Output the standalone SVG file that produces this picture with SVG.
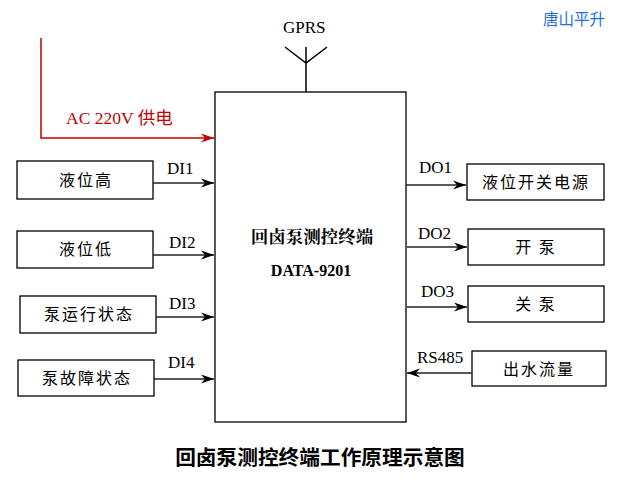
<svg xmlns="http://www.w3.org/2000/svg" width="626" height="481" viewBox="0 0 626 481">
<defs>
<marker id="ah" markerUnits="userSpaceOnUse" markerWidth="14" markerHeight="10" refX="13" refY="5" orient="auto">
<path d="M0,0.5 L13,5 L0,9.5 L4,5 z" fill="#000"/>
</marker>
<marker id="ahr" markerUnits="userSpaceOnUse" markerWidth="14" markerHeight="10" refX="13" refY="5" orient="auto">
<path d="M0,0.5 L13,5 L0,9.5 L4,5 z" fill="#c00000"/>
</marker>
</defs>
<style>
.box{fill:#fff;stroke:#000;stroke-width:1.3}
.cn{font-family:"Noto Sans CJK SC","Noto Sans",sans-serif;font-size:16px;letter-spacing:2px;text-anchor:middle;fill:#000}
.lb{font-family:"Liberation Serif","Noto Sans CJK SC",serif;font-size:17px;fill:#000}
.ln{stroke:#222;stroke-width:1.5;fill:none;marker-end:url(#ah)}
</style>
<rect width="626" height="481" fill="#fff"/>
<text x="543" y="25" style="font-family:'Noto Sans CJK SC',sans-serif;font-size:15.5px;fill:#1e6fd9">唐山平升</text>

<g id="terminal">
<rect class="box" x="215" y="92" width="191" height="330"/>
<text x="312" y="243" text-anchor="middle" style="font-family:'Noto Serif CJK SC','Noto Sans CJK SC',serif;font-size:17.5px;font-weight:bold">回卤泵测控终端</text>
<text x="311" y="276" text-anchor="middle" style="font-family:'Liberation Serif',serif;font-size:16px;font-weight:bold">DATA-9201</text>
</g>

<g id="gprs">
<text class="lb" x="283" y="33">GPRS</text>
<path d="M285,47 L306,63 L327,47 M306,47 L306,92" stroke="#000" stroke-width="1.5" fill="none"/>
</g>

<g id="power">
<text x="66" y="124" style="font-family:'Liberation Serif','Noto Sans CJK SC',serif;font-size:17.5px;fill:#c00000">AC 220V 供电</text>
</g>

<g id="n1"><rect class="box" x="17" y="161" width="136" height="38"/><text class="cn" x="86" y="186">液位高</text></g>
<g id="n2"><rect class="box" x="17" y="231" width="136" height="37"/><text class="cn" x="86" y="255">液位低</text></g>
<g id="n3"><rect class="box" x="20" y="296" width="136" height="37"/><text class="cn" x="89" y="320">泵运行状态</text></g>
<g id="n4"><rect class="box" x="18" y="360" width="136" height="36"/><text class="cn" x="87" y="384">泵故障状态</text></g>

<g id="n5"><rect class="box" x="467" y="164" width="137" height="36"/><text class="cn" x="536" y="188">液位开关电源</text></g>
<g id="n6"><rect class="box" x="468" y="229" width="136" height="36"/><text class="cn" x="536" y="253">开 泵</text></g>
<g id="n7"><rect class="box" x="468" y="286" width="136" height="36"/><text class="cn" x="536" y="310">关 泵</text></g>
<g id="n8"><rect class="box" x="472" y="351" width="134" height="35"/><text class="cn" x="539" y="375">出水流量</text></g>

<g id="connectors">
<path d="M41,38 L41,138 L214,138" stroke="#c00000" stroke-width="1.5" fill="none" marker-end="url(#ahr)"/>
<path class="ln" d="M153,183 L214,183"/>
<path class="ln" d="M153,255 L214,255"/>
<path class="ln" d="M156,317 L214,317"/>
<path class="ln" d="M154,379 L214,379"/>
<path class="ln" d="M406,185 L466,185"/>
<path class="ln" d="M407,247 L467,247"/>
<path class="ln" d="M407,307 L467,307"/>
<path class="ln" d="M472,373 L407,373"/>
<text class="lb" x="167" y="174">DI1</text>
<text class="lb" x="169" y="248">DI2</text>
<text class="lb" x="169" y="309">DI3</text>
<text class="lb" x="168" y="368">DI4</text>
<text class="lb" x="419" y="173">DO1</text>
<text class="lb" x="418" y="239">DO2</text>
<text class="lb" x="421" y="297">DO3</text>
<text class="lb" x="417" y="363">RS485</text>
</g>

<text x="320" y="465" text-anchor="middle" style="font-family:'Noto Sans CJK SC',sans-serif;font-size:20.7px;font-weight:bold;fill:#000">回卤泵测控终端工作原理示意图</text>
</svg>
